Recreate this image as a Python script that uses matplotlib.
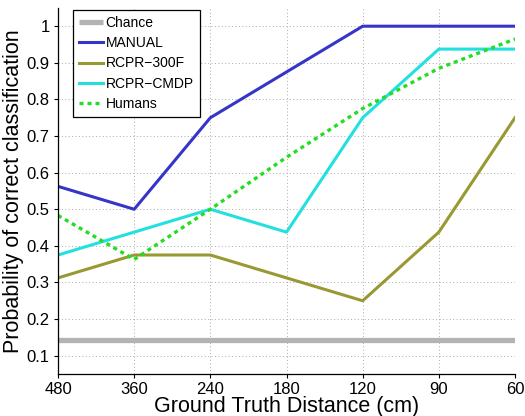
import matplotlib
matplotlib.use("Agg")
import matplotlib.pyplot as plt
import numpy as np

# ground truth distances (cm), plotted at equal spacing
distances = ["480", "360", "240", "180", "120", "90", "60"]
chance = [1 / 7.0] * 7
manual = [0.5625, 0.5, 0.75, 0.875, 1.0, 1.0, 1.0]
rcpr_300f = [0.3125, 0.375, 0.375, 0.3125, 0.25, 0.4375, 0.75]
rcpr_cmdp = [0.375, 0.4375, 0.5, 0.4375, 0.75, 0.9375, 0.9375]
humans = [0.483, 0.363, 0.5, 0.642, 0.775, 0.885, 0.965]
yticks = [0.1, 0.2, 0.3, 0.4, 0.5, 0.6, 0.7, 0.8, 0.9, 1.0]
ytick_labels = ["0.1", "0.2", "0.3", "0.4", "0.5", "0.6", "0.7", "0.8", "0.9", "1"]

plt.rcParams['font.family'] = ['Liberation Sans', 'DejaVu Sans']

fig = plt.figure(figsize=(5.25, 4.16), dpi=100)
ax = fig.add_axes([0.1105, 0.101, 0.8705, 0.880])

x = np.arange(len(distances))
ax.plot(x, chance, color='#b3b3b3', lw=3.8, label='Chance', solid_capstyle='butt')
ax.plot(x, manual, color='#3535c8', lw=2.2, label='MANUAL')
ax.plot(x, rcpr_300f, color='#999933', lw=2.2, label='RCPR\u2212300F')
ax.plot(x, rcpr_cmdp, color='#22e0e0', lw=2.2, label='RCPR\u2212CMDP')
ax.plot(x, humans, color='#22dd22', lw=2.4, ls=(0, (1.2, 1.2)), label='Humans')

ax.set_xlim(0, len(distances) - 1)
ax.set_ylim(0.05, 1.05)
ax.set_xticks(x)
ax.set_xticklabels(distances)
ax.set_yticks(yticks)
ax.set_yticklabels(ytick_labels)
ax.tick_params(labelsize=12, direction='out', length=3, width=0.8, pad=3)
ax.grid(True, ls=(0, (1, 2.5)), color='#aaaaaa', lw=0.7)
ax.spines['top'].set_visible(False)
ax.spines['right'].set_visible(False)
for s in ['left', 'bottom']:
    ax.spines[s].set_linewidth(0.9)

ax.set_xlabel('Ground Truth Distance (cm)', fontsize=15.5, labelpad=-1)
ax.set_ylabel('Probability of correct classification', fontsize=15.5, labelpad=2)

leg = ax.legend(loc='upper left', bbox_to_anchor=(0.033, 0.995), fontsize=10,
                frameon=True, fancybox=False, borderpad=0.45, labelspacing=0.45,
                handlelength=1.7, handletextpad=0.2, borderaxespad=0.0)
leg.get_frame().set_edgecolor('black')
leg.get_frame().set_linewidth(0.9)
leg.get_frame().set_alpha(1)

fig.savefig('out.png', dpi=100)
